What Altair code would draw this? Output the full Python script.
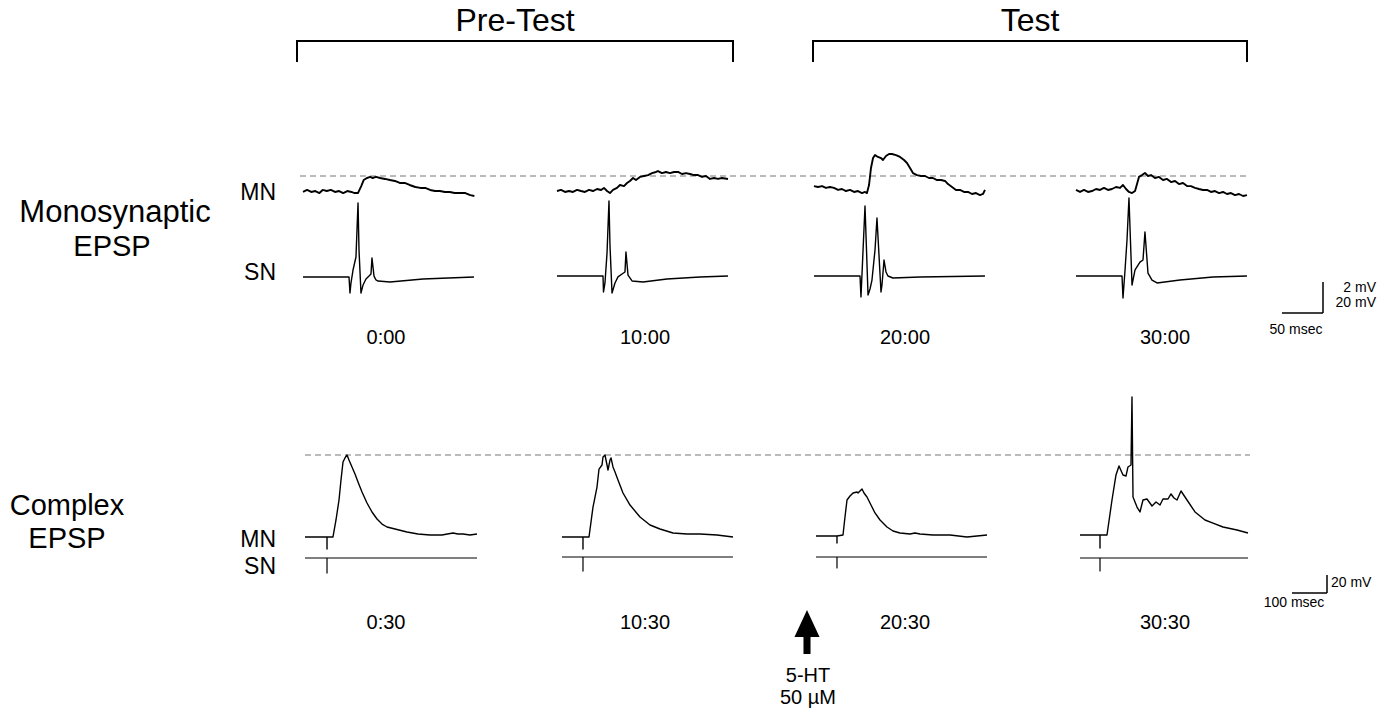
import altair as alt
import pandas as pd

# ---------------- values ----------------
MONO_TIMES = ["0:00", "10:00", "20:00", "30:00"]
COMPLEX_TIMES = ["0:30", "10:30", "20:30", "30:30"]
PHASES = ["Pre-Test", "Test"]

# Monosynaptic EPSP, MN traces: time (ms) / potential relative to dashed reference (mV)
MN_MONO_T = [
    [0, 5, 10, 15, 20, 24, 29, 34, 39, 44, 49, 54, 59, 63, 67, 71, 74, 78, 82, 85, 89, 94, 100, 106, 112,
     118, 124, 130, 137, 143, 149, 155, 161, 167, 173, 179, 185, 192, 198, 204, 209],
    [0, 4.9, 9.8, 14.6, 19.5, 24.4, 29.3, 34.1, 39, 43.9, 48.8, 53.7, 57.3, 61, 64.6, 68.3, 73.2, 76.8,
     81.7, 85.4, 89, 92.7, 96.3, 101.2, 106.1, 111, 115.9, 120.7, 123.2, 128, 132.9, 137.8, 142.7, 147.6,
     152.4, 157.3, 162.2, 167.1, 172, 176.8, 181.7, 186.6, 191.5, 196.3, 201.2, 208.5],
    [0, 4.9, 9.8, 14.6, 19.5, 24.4, 29.3, 34.1, 39, 43.9, 48.8, 53.7, 58.5, 62.2, 64.6, 67.1, 69.5, 72,
     74.4, 78, 81.7, 84.1, 87.8, 91.5, 95.1, 100, 104.9, 109.8, 113.4, 117.1, 120.7, 125.6, 130.5, 135.4,
     140.2, 145.1, 150, 154.9, 159.8, 163.4, 168.3, 173.2, 178, 182.9, 187.8, 192.7, 197.6, 202.4, 206.1, 208.5],
    [0, 4.9, 9.8, 14.6, 19.5, 24.4, 29.3, 34.1, 39, 43.9, 48.8, 53.7, 57.3, 61, 64.6, 68.3, 72, 74.4, 76.8,
     80.5, 84.1, 87.8, 91.5, 96.3, 101.2, 106.1, 111, 115.9, 120.7, 125.6, 130.5, 135.4, 140.2, 145.1, 150,
     154.9, 159.8, 164.6, 169.5, 174.4, 179.3, 184.1, 189, 193.9, 198.8, 203.7, 208.5],
]
MN_MONO_V = [
    [-1.03, -0.90, -1.03, -0.97, -1.10, -0.90, -0.97, -0.90, -1.03, -0.97, -1.10, -0.97, -1.03, -1.10, -1.10,
     -0.65, -0.26, -0.13, -0.06, -0.13, -0.06, -0.13, -0.19, -0.26, -0.32, -0.45, -0.45, -0.58, -0.71, -0.77,
     -0.77, -0.90, -0.97, -0.97, -1.03, -1.03, -1.10, -1.10, -1.10, -1.23, -1.29],
    [-0.97, -0.90, -1.03, -0.97, -1.03, -0.90, -0.97, -1.03, -0.90, -0.97, -0.84, -0.90, -0.77, -0.97, -1.10,
     -0.90, -0.77, -0.58, -0.65, -0.45, -0.32, -0.13, -0.26, -0.06, 0, 0.06, 0.19, 0.26, 0.32, 0.19, 0.26,
     0.19, 0.26, 0.26, 0.13, 0.19, 0.13, 0.06, 0.06, -0.06, 0, -0.19, -0.13, -0.19, -0.13, -0.19],
    [-0.65, -0.71, -0.65, -0.77, -0.71, -0.77, -0.90, -0.84, -0.97, -0.90, -1.03, -0.97, -1.10, -1.03, -1.10,
     -0.58, 0.52, 1.16, 1.35, 1.23, 1.16, 1.03, 1.29, 1.42, 1.42, 1.35, 1.23, 1.03, 0.84, 0.52, 0.19, 0.06,
     0, 0, -0.13, -0.13, -0.26, -0.26, -0.32, -0.52, -0.71, -0.90, -0.90, -1.03, -1.03, -1.16, -1.10, -1.23,
     -1.16, -0.90],
    [-0.90, -1.03, -0.90, -1.03, -0.97, -0.84, -0.90, -0.77, -0.90, -0.84, -0.71, -0.77, -0.58, -0.84, -1.03,
     -1.10, -0.97, -0.52, -0.06, 0.06, 0.19, 0, 0.06, -0.13, -0.06, -0.26, -0.19, -0.39, -0.32, -0.52, -0.45,
     -0.65, -0.65, -0.77, -0.84, -0.90, -0.90, -1.03, -0.97, -1.10, -1.03, -1.16, -1.10, -1.23, -1.16, -1.29,
     -1.23],
]

# Monosynaptic EPSP, SN traces: time (ms) / potential relative to rest (mV)
SN_MONO_T = [
    [0, 56.1, 57.3, 58.5, 61, 64.6, 67.1, 68.3, 70.7, 73.2, 76.8, 80.5, 82.9, 84.1, 86.6, 89, 91.5, 106.1,
     146.3, 208.5],
    [0, 56.1, 56.7, 58.5, 61, 63.4, 64.6, 67.1, 70.7, 74.4, 79.3, 82.9, 84.1, 86.6, 91.5, 104.9, 134.1,
     174.4, 208.5],
    [0, 56.1, 57.3, 62.2, 65.9, 68.3, 70.7, 74.4, 76.8, 81.7, 82.9, 85.4, 87.8, 90.2, 96.3, 129.3, 208.5],
    [0, 56.1, 57.3, 59.8, 62.2, 64.6, 68.3, 72, 78, 81.7, 84.1, 87.8, 92.7, 98.8, 126.8, 167.1, 208.5],
]
SN_MONO_V = [
    [0, 0, -10.3, -3.9, 4.5, 12.9, 47.7, 17.4, -10.3, -5.2, -1.3, 0.6, 1.9, 12.3, 0.6, -1.9, -2.6, -3.2,
     -1.3, 0],
    [0, 0, -10.3, -4.5, 14.8, 48.4, 20, -11, -4.5, -0.6, 1.3, 2.6, 15.5, 0.6, -3.2, -3.9, -1.9, -0.6, 0],
    [0, 0, -13.5, 45.2, -12.3, -8.4, -2.6, 16.8, 37.4, -10.3, -5.8, 10.3, 2.6, 0, -1.3, -0.6, 0],
    [0, 0, -14.2, 3.9, 23.2, 50.3, -5.8, 3.9, 9, 10.3, 28.4, 1.9, -2.6, -4.5, -2.6, -0.6, 0],
]

# Complex EPSP, MN traces: time (ms) / potential relative to rest (mV)
MN_CX_T = [
    [0, 71, 71, 71, 90.3, 100, 109.7, 116.1, 122.6, 129, 135.5, 141.9, 151.6, 161.3, 171, 183.9, 200,
     216.1, 232.3, 248.4, 264.5, 290.3, 329, 364.5, 403.2, 441.9, 477.4, 493.5, 509.7, 532.3, 554.8],
    [0, 67.7, 67.7, 67.7, 87.1, 100, 112.9, 119.4, 129, 132.3, 138.7, 145.2, 148.4, 154.8, 158.1, 164.5,
     171, 180.6, 196.8, 219.4, 251.6, 283.9, 316.1, 358.1, 403.2, 445.2, 500, 551.6],
    [0, 67.7, 67.7, 67.7, 87.1, 93.5, 100, 109.7, 119.4, 132.3, 135.5, 141.9, 148.4, 154.8, 164.5, 177.4,
     190.3, 206.5, 229, 248.4, 271, 303.2, 319.4, 335.5, 377.4, 432.3, 487.1, 519.4, 551.6],
    [0, 64.5, 64.5, 64.5, 87.1, 103.2, 116.1, 125.8, 138.7, 148.4, 154.8, 164.5, 167.7, 171, 183.9, 193.5,
     203.2, 216.1, 232.3, 245.2, 258.1, 267.7, 283.9, 293.5, 303.2, 312.9, 325.8, 345.2, 371, 403.2, 429,
     461.3, 506.5, 541.9],
]
MN_CX_V = [
    [-1.1, -1.1, -14.4, -1.1, -1.1, 17.8, 40, 62.2, 82.2, 86.7, 90, 84.4, 76.7, 68.9, 60, 48.9, 36.7, 26.7,
     18.9, 13.3, 10, 7.8, 4.4, 2.2, 1.1, 1.1, 3.3, 2.2, 2.2, 1.1, 2.2],
    [-1.1, -1.1, -14.4, -1.1, -1.1, 32.2, 54.4, 74.4, 78.9, 87.8, 90, 78.9, 73.3, 84.4, 86.7, 76.7, 71.1,
     62.2, 47.8, 34.4, 21.1, 12.2, 7.8, 3.3, 2.2, 2.2, 1.1, -1.1],
    [0, 0, -7.8, 0, 1.1, 21.1, 40, 44.4, 47.8, 48.9, 47.8, 50, 52.2, 47.8, 43.3, 34.4, 25.6, 17.8, 10, 5.6,
     3.3, 2.2, 3.3, 2.2, 1.1, 1.1, -1.1, 0, 1.1],
    [1.1, 1.1, -13.3, 1.1, 1.1, 40, 67.8, 77.8, 67.8, 66.7, 76.7, 78.9, 154.4, 43.3, 32.2, 26.7, 40, 41.1,
     33.3, 37.8, 34.4, 41.1, 41.1, 46.7, 42.2, 40, 50, 40, 26.7, 17.8, 14.4, 10, 6.7, 3.3],
]

# Complex EPSP, SN traces (stimulus artefact only)
SN_CX_T = [
    [0, 71, 71, 71, 554.8],
    [0, 67.7, 67.7, 67.7, 551.6],
    [0, 67.7, 67.7, 67.7, 551.6],
    [0, 64.5, 64.5, 64.5, 541.9],
]
SN_CX_V = [
    [0, 0, -16.7, 0, 0],
    [0, 0, -15.6, 0, 0],
    [0, 0, -12.2, 0, 0],
    [0, 0, -14.4, 0, 0],
]

# ---------------- layout (pixels) ----------------
FONT = "Liberation Sans"
MONO_X0 = [303, 557, 814, 1076]
CX_X0 = [305, 562, 816, 1080]
MONO_SN_Y0 = [277, 276, 276, 276]
CX_SN_Y0 = [558, 557, 557, 558]
MONO_LABEL_X = [386, 645, 905, 1165]

one = pd.DataFrame({"k": [0]})


def seg(x1, y1, x2, y2, width=2.0, color="black", dash=None):
    kw = dict(strokeWidth=width, color=color)
    if dash:
        kw["strokeDash"] = dash
    return alt.Chart(one).mark_rule(**kw).encode(
        x=alt.value(x1), y=alt.value(y1), x2=alt.value(x2), y2=alt.value(y2)
    )


def label(text, x, y, size, align="center", baseline="middle"):
    return alt.Chart(pd.DataFrame({"label": [text]})).mark_text(
        font=FONT, fontSize=size, align=align, baseline=baseline, color="black"
    ).encode(x=alt.value(x), y=alt.value(y), text="label:N")


def trace(t, v, x0, y0, ms_unit, px_per_ms_unit, mv_unit, px_per_mv_unit, width):
    df = pd.DataFrame({"t": t, "v": v, "i": list(range(len(t)))})
    return alt.Chart(df).mark_line(color="black", strokeWidth=width, strokeJoin="round").encode(
        x=alt.X("t:Q", axis=None,
                scale=alt.Scale(domain=[0, ms_unit], range=[x0, x0 + px_per_ms_unit], nice=False, zero=False)),
        y=alt.Y("v:Q", axis=None,
                scale=alt.Scale(domain=[0, mv_unit], range=[y0, y0 - px_per_mv_unit], nice=False, zero=False)),
        order="i:Q",
    )


layers = []

# phase brackets
for name, (xa, xb) in zip(PHASES, [(297, 733), (813, 1247)]):
    layers.append(seg(xa, 41, xb, 41))
    layers.append(seg(xa, 40, xa, 62))
    layers.append(seg(xb, 40, xb, 62))
    layers.append(label(name, (xa + xb) / 2, 21, 32))

# dashed reference lines
layers.append(seg(300, 176, 1250, 176, width=1, color="#777777", dash=[6, 4]))
layers.append(seg(305, 455, 1250, 455, width=1, color="#777777", dash=[6, 4]))

# traces
for k in range(4):
    layers.append(trace(MN_MONO_T[k], MN_MONO_V[k], MONO_X0[k], 176, 50, 41, 2, 31, 1.9))
    layers.append(trace(SN_MONO_T[k], SN_MONO_V[k], MONO_X0[k], MONO_SN_Y0[k], 50, 41, 20, 31, 1.4))
    layers.append(trace(MN_CX_T[k], MN_CX_V[k], CX_X0[k], 536, 100, 31, 20, 18, 1.4))
    layers.append(trace(SN_CX_T[k], SN_CX_V[k], CX_X0[k], CX_SN_Y0[k], 100, 31, 20, 18, 1.2))
    layers.append(label(MONO_TIMES[k], MONO_LABEL_X[k], 338, 20))
    layers.append(label(COMPLEX_TIMES[k], MONO_LABEL_X[k], 623, 20))

# row labels
layers.append(label("Monosynaptic", 115, 213, 31))
layers.append(label("EPSP", 112, 247, 29))
layers.append(label("Complex", 67, 506, 29))
layers.append(label("EPSP", 67, 539, 29))
layers.append(label("MN", 276, 193, 23, align="right"))
layers.append(label("SN", 276, 273, 23, align="right"))
layers.append(label("MN", 276, 540, 23, align="right"))
layers.append(label("SN", 276, 567, 23, align="right"))

# scale bars
layers.append(seg(1323, 282, 1323, 313, width=1.5))
layers.append(seg(1282, 313, 1323, 313, width=1.5))
layers.append(label("2 mV", 1376, 288, 14, align="right"))
layers.append(label("20 mV", 1376, 303, 14, align="right"))
layers.append(label("50 msec", 1296, 330, 14))
layers.append(seg(1327, 575, 1327, 593, width=1.5))
layers.append(seg(1292, 593, 1327, 593, width=1.5))
layers.append(label("20 mV", 1331, 583, 14, align="left"))
layers.append(label("100 msec", 1294, 603, 14))

# 5-HT application arrow
arrow_path = "M0,-1 L0.57,0.23 L0.16,0.23 L0.16,1 L-0.16,1 L-0.16,0.23 L-0.57,0.23 Z"
layers.append(
    alt.Chart(one).mark_point(shape=arrow_path, size=1936, filled=True, color="black", opacity=1, strokeWidth=0)
    .encode(x=alt.value(807), y=alt.value(632))
)
layers.append(label("5-HT", 808, 676, 20))
layers.append(label("50 \u00b5M", 808, 698, 20))

chart = (
    alt.layer(*layers)
    .resolve_scale(x="independent", y="independent")
    .properties(width=1393, height=714, autosize=alt.AutoSizeParams(type="none"), padding=0,
                background="white")
    .configure_view(stroke=None)
)

chart.save("out.html", embed_options={"renderer": "svg", "actions": False})
